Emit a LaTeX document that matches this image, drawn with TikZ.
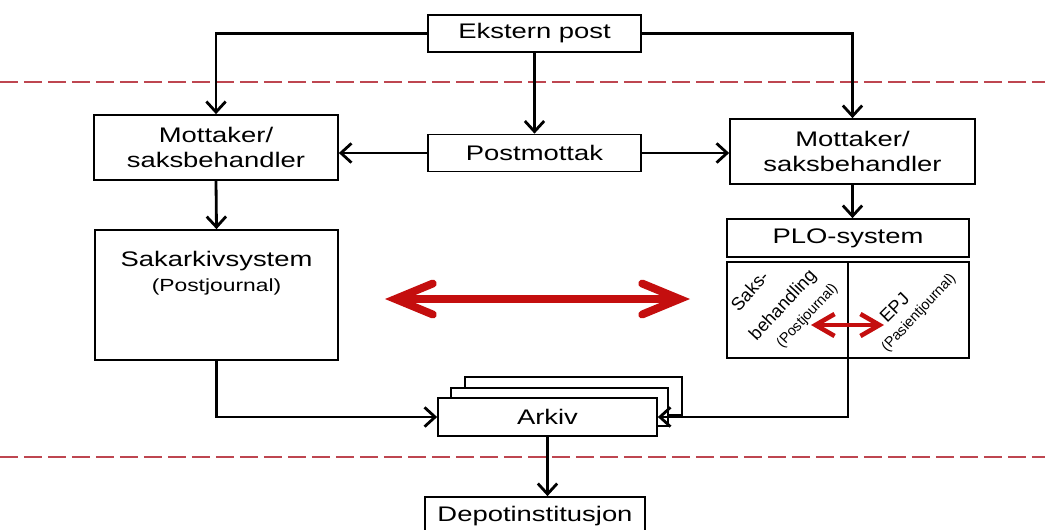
\documentclass[tikz,border=0pt]{standalone}
\usepackage{fontspec}
\setmainfont[FakeStretch=1.3]{Liberation Sans}
\newfontfamily\rettfont{Liberation Sans}
\usetikzlibrary{arrows.meta}
\definecolor{pilrod}{RGB}{196,14,14}
\definecolor{strekrod}{RGB}{190,70,80}
\begin{document}
\begin{tikzpicture}[x=0.02cm,y=-0.02cm]

\tikzstyle{box}=[rectangle,draw,line width=1pt,fill=white,inner sep=0pt,align=center,font=\fontsize{12}{14}\selectfont]
\tikzstyle{flow}=[line width=1.6pt,-{Straight Barb[length=6pt,width=11pt]}]
\tikzstyle{grense}=[draw=strekrod,line width=0.9pt,dash pattern=on 0.36cm off 0.12cm]
\tikzstyle{kobling}=[draw=pilrod,line width=4.5pt,line cap=round,{Straight Barb[length=0.75cm,width=0.62cm,line cap=round]}-{Straight Barb[length=0.75cm,width=0.62cm,line cap=round]}]
\tikzstyle{lita}=[draw=pilrod,line width=2.6pt,{Straight Barb[length=0.38cm,width=0.44cm]}-{Straight Barb[length=0.38cm,width=0.44cm]}]
\tikzstyle{skrå}=[inner sep=0pt,font=\rettfont\fontsize{10.3}{12}\selectfont]
\tikzstyle{skråliten}=[inner sep=0pt,font=\rettfont\fontsize{8.2}{10}\selectfont]

\useasboundingbox (0,0) rectangle (1045,529);

% skillelinjer
\draw[grense] (0,82) -- (1045,82);
\draw[grense] (0,457) -- (1045,457);

\node[box,minimum width=4.26cm,minimum height=0.74cm] (ekst)  at (534.5,33.5) {Ekstern post};
\node[box,minimum width=4.88cm,minimum height=1.3cm]  (mottv) at (216,147.5) {Mottaker/\\saksbehandler};
\node[box,minimum width=4.26cm,minimum height=0.74cm] (post)  at (534.5,153) {Postmottak};
\node[box,minimum width=4.9cm,minimum height=1.3cm]   (motth) at (852.5,151.5) {Mottaker/\\saksbehandler};

\node[box,minimum width=4.86cm,minimum height=2.6cm]  (sak)   at (216.5,295) {};
\node[align=center,font=\fontsize{12}{14}\selectfont] (sakt) at (216.5,273) {Sakarkivsystem\\{\fontsize{10}{12}\selectfont(Postjournal)}};

\node[box,minimum width=4.84cm,minimum height=0.76cm] (plo)   at (848,238) {PLO-system};
\node[box,minimum width=4.84cm,minimum height=1.92cm] (split) at (848,310) {};
\draw[line width=1pt] (split.north) -- (split.south);

% skrå tekster
\node[skrå,rotate=48]      (saks)  at (749.5,290.5) {Saks-};
\node[skrå,rotate=47]      (beh)   at (783.5,305.5) {behandling};
\node[skråliten,rotate=47] (postj) at (807.5,316) {(Postjournal)};
\node[skrå,rotate=45]      (epj)   at (894.5,307.5) {EPJ};
\node[skråliten,rotate=47] (pasj)  at (919,313) {(Pasientjournal)};

% arkiv-bunke
\node[box,minimum width=4.34cm,minimum height=0.76cm] (ark3)  at (573.5,396) {};
\node[box,minimum width=4.34cm,minimum height=0.76cm] (ark2)  at (559.5,407) {};
\node[box,minimum width=4.38cm,minimum height=0.76cm] (arkiv) at (547.5,417) {Arkiv};

\node[box,minimum width=4.4cm,minimum height=0.76cm]  (depot) at (535,516) {Depotinstitusjon};

\draw[flow] (ekst.west) -| (mottv.north);
\draw[flow] (ekst.east) -| (motth.north);
\draw[flow] (ekst.south) -- (post.north);
\draw[flow] (post.west) -- (post.west -| mottv.east);
\draw[flow] (post.east) -- (post.east -| motth.west);
\draw[flow] (mottv.south) -- (sak.north);
\draw[flow] (motth.south) -- (motth.south |- plo.north);
\draw[flow] (sak.south) |- (arkiv.west);
\draw[flow] (split.south) |- (arkiv.east);
\draw[flow] (arkiv.south) -- (arkiv.south |- depot.north);

% røde piler
\coordinate (rv) at (385,299);
\coordinate (rh) at (690,299);
\draw[kobling] (rv) -- (rh);
\coordinate (lv) at (811,325);
\coordinate (lh) at (884,325);
\draw[lita] (lv) -- (lh);

\end{tikzpicture}
\end{document}
